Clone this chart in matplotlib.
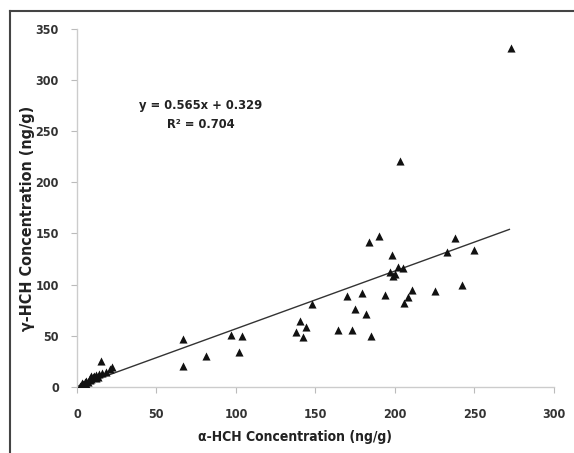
import matplotlib
matplotlib.use("Agg")
import matplotlib.pyplot as plt
from matplotlib.lines import Line2D
import numpy as np

alpha_hch = [273, 203, 184, 190, 198, 197, 200, 202, 205, 199,
             238, 233, 250, 242, 225, 211, 208, 206, 194, 179,
             170, 148, 175, 182, 164, 173, 185, 140, 144, 138,
             142, 67, 67, 81, 97, 104, 102,
             2, 3, 4, 5, 5, 6, 7, 8, 8, 9, 10, 11, 12, 13, 14,
             15, 16, 18, 21, 22, 3, 6, 9, 12]
gamma_hch = [331, 221, 142, 148, 129, 112, 110, 117, 116, 108,
             146, 132, 134, 100, 94, 95, 88, 82, 90, 92,
             89, 81, 76, 71, 56, 56, 50, 64, 59, 54,
             49, 47, 20, 30, 51, 50, 34,
             1, 2, 3, 4, 5, 6, 5, 7, 9, 8, 10, 11, 12, 10, 13,
             25, 14, 15, 17, 19, 4, 3, 11, 9]

slope = 0.565
intercept = 0.329
fit_x = [0, 272]

x_ticks = [0, 50, 100, 150, 200, 250, 300]
y_ticks = [0, 50, 100, 150, 200, 250, 300, 350]

FONT = dict(family='DejaVu Sans', stretch='condensed', weight='bold')

fig = plt.figure(figsize=(5.74, 4.53), dpi=100)
ax = fig.add_axes([0.134, 0.146, 0.831, 0.790])

ax.scatter(alpha_hch, gamma_hch, marker='^', s=34, color='#111111', zorder=3, linewidths=0)
fx = np.array(fit_x, dtype=float)
ax.plot(fx, slope * fx + intercept, color='#333333', lw=1.0, zorder=2)

ax.set_xlim(0, 300)
ax.set_ylim(0, 350)
ax.set_xticks(x_ticks)
ax.set_yticks(y_ticks)
ax.set_xticklabels([str(t) for t in x_ticks], fontsize=9, **FONT)
ax.set_yticklabels([str(t) for t in y_ticks], fontsize=9, **FONT)
ax.tick_params(axis='both', colors='#bbbbbb', length=4, width=0.8)
ax.tick_params(axis='x', pad=11)
ax.tick_params(axis='y', pad=9)
for lab in ax.get_xticklabels() + ax.get_yticklabels():
    lab.set_color('#333333')
for s in ['top', 'right']:
    ax.spines[s].set_visible(False)
for s in ['left', 'bottom']:
    ax.spines[s].set_color('#cccccc')
    ax.spines[s].set_linewidth(1.0)

ax.set_xlabel('α-HCH Concentration (ng/g)', fontsize=10, color='#222222', **FONT)
ax.set_ylabel('γ-HCH Concentration (ng/g)', fontsize=11.5, color='#222222', **FONT)
ax.xaxis.label.set_va('center')
ax.yaxis.label.set_va('center')
ax.xaxis.set_label_coords(0.457, -0.140)
ax.yaxis.set_label_coords(-0.104, 0.472)

ax.text(78, 266, 'y = 0.565x + 0.329\nR² = 0.704', ha='center', va='center',
        fontsize=9.3, color='#222222', linespacing=1.6, **FONT)

fig.add_artist(Line2D([0.017, 1.0], [0.975, 0.975], transform=fig.transFigure, color='#444444', lw=1.5))
fig.add_artist(Line2D([0.017, 0.017], [0.0, 0.975], transform=fig.transFigure, color='#444444', lw=1.5))

fig.savefig('out.png', dpi=100)
